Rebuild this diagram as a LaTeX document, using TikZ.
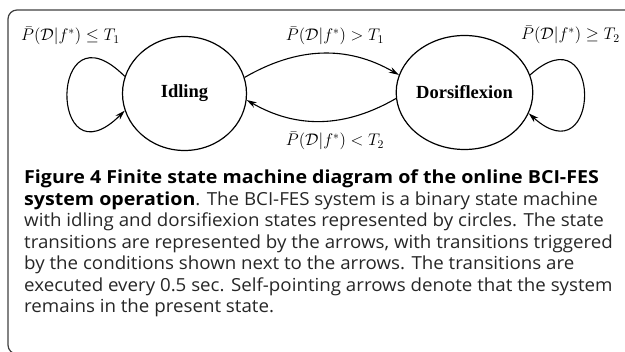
\RequirePackage{fix-cm}
\documentclass[tikz,border=0pt]{standalone}
\usepackage{amsmath,amssymb}
\usepackage{fontspec}
\usetikzlibrary{arrows.meta,shapes.geometric}
\newfontfamily\capfont[FakeStretch=1.04, BoldFeatures={FakeStretch=1.09}]{Open Sans}
\newfontfamily\statefont{Liberation Serif}

\begin{document}
\begin{tikzpicture}[x=1pt, y=-1pt,
  state/.style={ellipse, draw=black, line width=1.2pt, minimum width=124pt, minimum height=114pt, inner sep=0pt, font=\statefont\bfseries\fontsize{18.5}{20}\selectfont},
  trans/.style={line width=1.1pt, -{Stealth[length=10pt, width=6pt]}},
  cond/.style={anchor=base, inner sep=0pt, font=\fontsize{16.8}{18}\selectfont}]
  \useasboundingbox (0,0) rectangle (625,352);
  \clip (0,0) rectangle (625,352);

  % frame of the figure
  \draw[black!75, line width=1.2pt, rounded corners=9pt] (8,10) rectangle (640,354);

  % states
  \node (idle) [state] at (184.5,93.5) {Idling};
  \node (dorsi) [state] at (464.5,92.5) {Dorsiflexion};

  % conditions
  \node (cidle) [cond, anchor=base west] at (21,41) {$\bar{P}(\mathcal{D}|f^{*})\leq T_1$};
  \node (cup) [cond] at (335,41) {$\bar{P}(\mathcal{D}|f^{*})> T_1$};
  \node (cdorsi) [cond, anchor=base west] at (521,40) {$\bar{P}(\mathcal{D}|f^{*})\geq T_2$};
  \node (cdown) [cond] at (335,146) {$\bar{P}(\mathcal{D}|f^{*})< T_2$};

  \path [trans]
  (idle.164) edge [out=135, in=225, distance=108pt] (idle.196)
  (idle.15) edge [out=30, in=150] (dorsi.165)
  (dorsi.185) edge [out=210, in=330] (idle.354)
  (dorsi.15) edge [out=42, in=318, distance=98pt] (dorsi.342);

  % caption (base = last line)
  \node (caption) [anchor=base west, align=left, inner sep=0pt, text=black!85,
    font=\capfont\fontsize{18}{21.5}\selectfont] at (24,313)
  {\textcolor{black}{\bfseries Figure 4 Finite state machine diagram of the online BCI-FES}\\
   \textcolor{black}{\bfseries system operation}. The BCI-FES system is a binary state machine\\
   with idling and dorsifiexion states represented by circles. The state\\
   transitions are represented by the arrows, with transitions triggered\\
   by the conditions shown next to the arrows. The transitions are\\
   executed every 0.5 sec. Self-pointing arrows denote that the system\\
   remains in the present state.};
\end{tikzpicture}
\end{document}
